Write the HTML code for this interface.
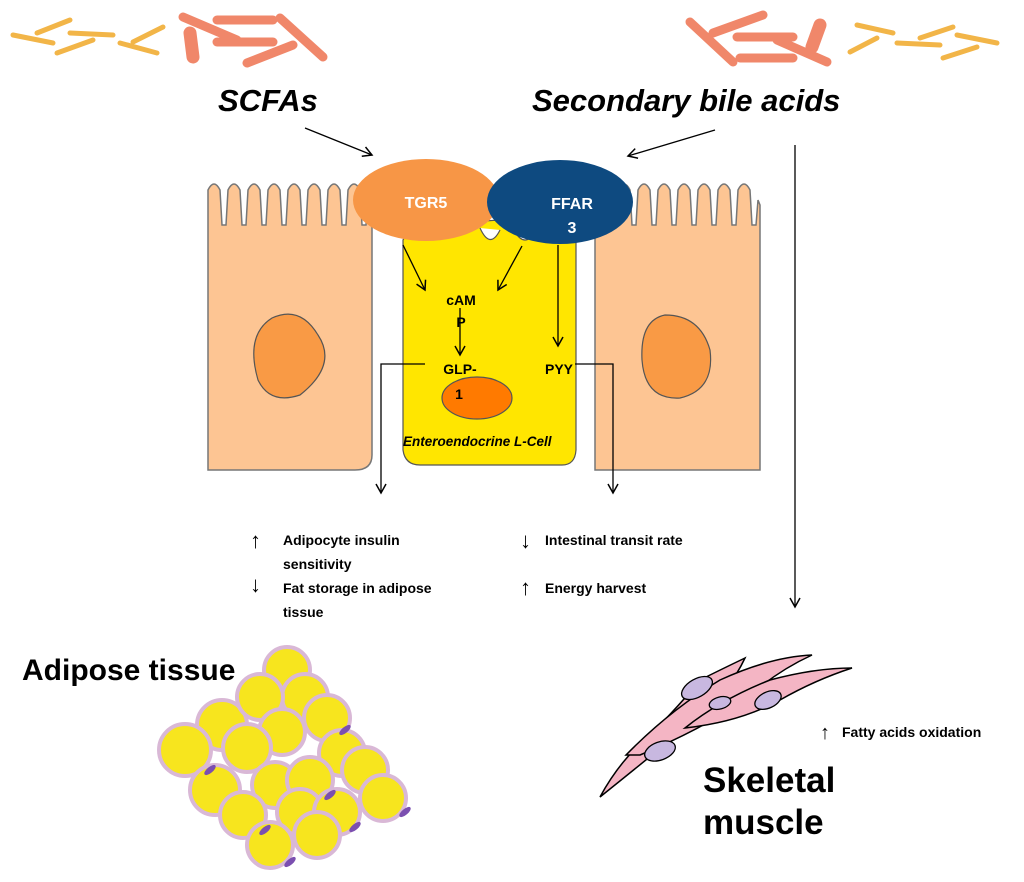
<!DOCTYPE html>
<html><head><meta charset="utf-8"><style>
html,body{margin:0;padding:0;background:#fff;}
svg{display:block;font-family:"Liberation Sans",sans-serif;}
.b{font-weight:bold;}
</style></head><body>
<svg width="1024" height="882" viewBox="0 0 1024 882" xmlns="http://www.w3.org/2000/svg">
<defs>
<marker id="a" markerWidth="12" markerHeight="12" refX="10" refY="6" orient="auto" markerUnits="userSpaceOnUse"><path d="M1,1 L10,6 L1,11" fill="none" stroke="#000" stroke-width="1.5"/></marker>
</defs>
<!-- bacteria -->
<g stroke="#F2B548" stroke-width="5" stroke-linecap="round">
<line x1="13" y1="35" x2="53" y2="43"/><line x1="37" y1="33" x2="70" y2="20"/>
<line x1="70" y1="33" x2="113" y2="35"/><line x1="57" y1="53" x2="93" y2="40"/>
<line x1="120" y1="43" x2="157" y2="53"/><line x1="133" y1="42" x2="163" y2="27"/>
<line x1="857" y1="25" x2="893" y2="33"/><line x1="850" y1="52" x2="877" y2="38"/>
<line x1="897" y1="43" x2="940" y2="45"/><line x1="920" y1="38" x2="953" y2="27"/>
<line x1="957" y1="35" x2="997" y2="43"/><line x1="943" y1="58" x2="977" y2="47"/>
</g>
<g stroke="#F0876A" stroke-width="9" stroke-linecap="round">
<line x1="183" y1="17" x2="237" y2="40"/><line x1="217" y1="20" x2="273" y2="20"/>
<line x1="217" y1="42" x2="273" y2="42"/><line x1="280" y1="18" x2="323" y2="57"/>
<line x1="247" y1="63" x2="293" y2="45"/>
<line x1="690" y1="22" x2="733" y2="62"/><line x1="713" y1="33" x2="763" y2="15"/>
<line x1="737" y1="37" x2="793" y2="37"/><line x1="777" y1="40" x2="827" y2="62"/>
<line x1="740" y1="58" x2="793" y2="58"/>
</g>
<g stroke="#F0876A" stroke-width="13" stroke-linecap="round">
<line x1="190" y1="33" x2="193" y2="57"/><line x1="820" y1="25" x2="812" y2="47"/>
</g>
<!-- epithelial cells -->
<path d="M208,470 L208,190 Q214,178 220,190 L222,225 L226,225 L228,190 Q234,178 240,190 L242,225 L246,225 L248,190 Q254,178 260,190 L262,225 L266,225 L268,190 Q274,178 280,190 L282,225 L286,225 L288,190 Q294,178 300,190 L302,225 L306,225 L308,190 Q314,178 320,190 L322,225 L326,225 L328,190 Q334,178 340,190 L342,225 L346,225 L348,190 Q354,178 360,190 L362,225 L366,225 L368,195 L372,200 L372,455 Q372,470 355,470 Z" fill="#FDC593" stroke="#777" stroke-width="1.5"/>
<path d="M272,318 Q300,305 318,335 Q338,365 300,395 Q270,405 258,380 Q245,335 272,318Z" fill="#F99A45" stroke="#555" stroke-width="1.2"/>
<path d="M595,470 L595,200 L600,200 Q604,178 610,190 L612,225 L616,225 L618,190 Q624,178 630,190 L632,225 L636,225 L638,190 Q644,178 650,190 L652,225 L656,225 L658,190 Q664,178 670,190 L672,225 L676,225 L678,190 Q684,178 690,190 L692,225 L696,225 L698,190 Q704,178 710,190 L712,225 L716,225 L718,190 Q724,178 730,190 L732,225 L736,225 L738,190 Q744,178 750,190 L752,225 L756,225 L758,200 L760,205 L760,470 Z" fill="#FDC593" stroke="#777" stroke-width="1.5"/>
<path d="M665,315 Q700,315 710,350 Q715,390 680,398 Q645,400 642,360 Q640,320 665,315Z" fill="#F99A45" stroke="#555" stroke-width="1.2"/>
<!-- L cell -->
<path d="M403,240 L403,450 Q405,465 420,465 L562,465 Q575,465 576,450 L576,240 Q578,230 570,225 L520,220 L518,180 Q510,170 500,180 L500,220 L470,222 Q410,225 403,240Z" fill="#FFE600" stroke="#555" stroke-width="1.2"/>
<path d="M480,228 Q490,250 500,230 M515,232 Q525,248 535,232" fill="#fff" stroke="#555" stroke-width="1.2"/>
<ellipse cx="477" cy="398" rx="35" ry="21" fill="#FF7A00" stroke="#555" stroke-width="1.2"/>
<!-- receptors -->
<ellipse cx="426" cy="200" rx="73" ry="41" fill="#F79646"/>
<ellipse cx="560" cy="202" rx="73" ry="42" fill="#0E4A80"/>
<text x="426" y="208" text-anchor="middle" fill="#fff" class="b" font-size="16">TGR5</text>
<text x="572" y="209" text-anchor="middle" fill="#fff" class="b" font-size="16">FFAR</text>
<text x="572" y="233" text-anchor="middle" fill="#fff" class="b" font-size="16">3</text>
<!-- titles -->
<text x="218" y="111" class="b" font-style="italic" font-size="31">SCFAs</text>
<text x="532" y="111" class="b" font-style="italic" font-size="31">Secondary bile acids</text>
<g stroke="#000" stroke-width="1.3" fill="none" marker-end="url(#a)">
<line x1="305" y1="128" x2="372" y2="155"/>
<line x1="715" y1="130" x2="628" y2="156"/>
<line x1="795" y1="145" x2="795" y2="607"/>
<line x1="403" y1="245" x2="425" y2="290"/>
<line x1="522" y1="246" x2="498" y2="290"/>
<line x1="558" y1="245" x2="558" y2="346"/>
<line x1="460" y1="308" x2="460" y2="355"/>
<polyline points="425,364 381,364 381,493"/>
<polyline points="575,364 613,364 613,493"/>
</g>
<g class="b" font-size="14">
<text x="461" y="305" text-anchor="middle">cAM</text>
<text x="461" y="327" text-anchor="middle">P</text>
<text x="460" y="374" text-anchor="middle">GLP-</text>
<text x="459" y="399" text-anchor="middle">1</text>
<text x="545" y="374">PYY</text>
<text x="403" y="446" font-style="italic" font-size="13.5">Enteroendocrine L-Cell</text>
</g>
<g class="b" font-size="14">
<text x="250" y="548" font-size="22" font-weight="normal">↑</text>
<text x="283" y="545">Adipocyte insulin</text>
<text x="283" y="569">sensitivity</text>
<text x="250" y="592" font-size="22" font-weight="normal">↓</text>
<text x="283" y="593">Fat storage in adipose</text>
<text x="283" y="617">tissue</text>
<text x="520" y="548" font-size="22" font-weight="normal">↓</text>
<text x="545" y="545">Intestinal transit rate</text>
<text x="520" y="595" font-size="22" font-weight="normal">↑</text>
<text x="545" y="593">Energy harvest</text>
<text x="820" y="739" font-size="20" font-weight="normal">↑</text>
<text x="842" y="737">Fatty acids oxidation</text>
</g>
<text x="22" y="680" class="b" font-size="30">Adipose tissue</text>
<text x="703" y="792" class="b" font-size="35">Skeletal</text>
<text x="703" y="834" class="b" font-size="35">muscle</text>
<!-- adipocytes -->
<g fill="#F7E51E" stroke="#D9B8D6" stroke-width="4">
<circle cx="287" cy="670" r="23"/><circle cx="305" cy="697" r="23"/><circle cx="222" cy="725" r="25"/>
<circle cx="260" cy="697" r="23"/><circle cx="327" cy="718" r="23"/><circle cx="282" cy="732" r="23"/>
<circle cx="342" cy="753" r="23"/><circle cx="185" cy="750" r="26"/><circle cx="247" cy="748" r="24"/>
<circle cx="365" cy="770" r="23"/><circle cx="215" cy="790" r="25"/><circle cx="275" cy="785" r="23"/>
<circle cx="310" cy="780" r="23"/><circle cx="383" cy="798" r="23"/><circle cx="300" cy="812" r="23"/>
<circle cx="337" cy="812" r="23"/><circle cx="243" cy="815" r="23"/><circle cx="270" cy="845" r="23"/>
<circle cx="317" cy="835" r="23"/>
</g>
<g fill="#7B4FB0">
<ellipse cx="210" cy="770" rx="7" ry="3" transform="rotate(-40 210 770)"/>
<ellipse cx="345" cy="730" rx="7" ry="3" transform="rotate(-40 345 730)"/>
<ellipse cx="265" cy="830" rx="7" ry="3" transform="rotate(-40 265 830)"/>
<ellipse cx="405" cy="812" rx="7" ry="3" transform="rotate(-40 405 812)"/>
<ellipse cx="330" cy="795" rx="7" ry="3" transform="rotate(-40 330 795)"/>
<ellipse cx="290" cy="862" rx="7" ry="3" transform="rotate(-40 290 862)"/>
<ellipse cx="355" cy="827" rx="7" ry="3" transform="rotate(-40 355 827)"/>
</g>
<!-- muscle -->
<g fill="#F4B5C4" stroke="#000" stroke-width="1.5">
<path d="M600,797 Q620,760 650,735 Q680,705 700,680 Q720,670 745,658 Q730,690 700,715 Q665,745 600,797Z"/>
<path d="M626,755 Q670,710 720,680 Q770,657 812,655 Q775,672 745,700 Q700,730 640,755Z"/>
<path d="M685,728 Q720,700 770,680 Q815,668 852,668 Q815,680 780,700 Q740,722 685,728Z"/>
</g>
<g fill="#C8B8E0" stroke="#000" stroke-width="1.3">
<ellipse cx="697" cy="688" rx="17" ry="9" transform="rotate(-30 697 688)"/>
<ellipse cx="720" cy="703" rx="11" ry="6" transform="rotate(-15 720 703)"/>
<ellipse cx="768" cy="700" rx="14" ry="8" transform="rotate(-25 768 700)"/>
<ellipse cx="660" cy="751" rx="16" ry="9" transform="rotate(-20 660 751)"/>
</g>
</svg>
</body></html>
